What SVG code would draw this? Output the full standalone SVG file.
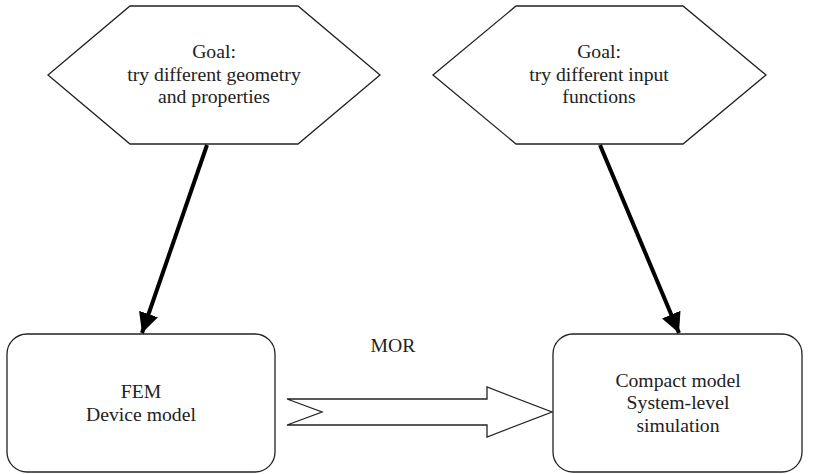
<svg xmlns="http://www.w3.org/2000/svg" width="828" height="474" viewBox="0 0 828 474">
<defs>
<style>
.shape{fill:#fff;stroke:#222;stroke-width:1.3}
.t{font-family:"Liberation Serif","Times New Roman",serif;font-size:19.7px;fill:#222;text-anchor:middle}
.conn{stroke:#000;stroke-width:4;fill:none}
</style>
<marker id="ah" viewBox="0 0 10 10" refX="10" refY="5" markerWidth="5" markerHeight="5" orient="auto" markerUnits="strokeWidth">
<path d="M0,0 L10,5 L0,10 z" fill="#000"/>
</marker>
</defs>
<rect width="828" height="474" fill="#fff"/>
<g id="goal1">
<polygon class="shape" points="130,6 298,6 380,75 298,144 130,144 48,75"/>
<text class="t" x="214" y="58">Goal:</text>
<text class="t" x="214" y="81">try different geometry</text>
<text class="t" x="214" y="103">and properties</text>
</g>
<g id="goal2">
<polygon class="shape" points="516,6 683,6 766,75 683,144 516,144 433,75"/>
<text class="t" x="599" y="58">Goal:</text>
<text class="t" x="599" y="81">try different input</text>
<text class="t" x="599" y="103">functions</text>
</g>
<g id="fem">
<rect class="shape" x="7" y="334" width="268" height="138" rx="20"/>
<text class="t" x="141" y="398">FEM</text>
<text class="t" x="141" y="421">Device model</text>
</g>
<g id="compact">
<rect class="shape" x="553" y="334" width="249" height="138" rx="20"/>
<text class="t" x="678" y="387">Compact model</text>
<text class="t" x="678" y="409">System-level</text>
<text class="t" x="678" y="432">simulation</text>
</g>
<g id="connectors">
<line class="conn" x1="207" y1="145" x2="142" y2="333" marker-end="url(#ah)"/>
<line class="conn" x1="600" y1="145" x2="679" y2="333" marker-end="url(#ah)"/>
<polygon class="shape" points="287,399 487,399 487,387 552,412 487,437 487,425 287,425 322,412"/>
<text class="t" x="393" y="352">MOR</text>
</g>
</svg>
